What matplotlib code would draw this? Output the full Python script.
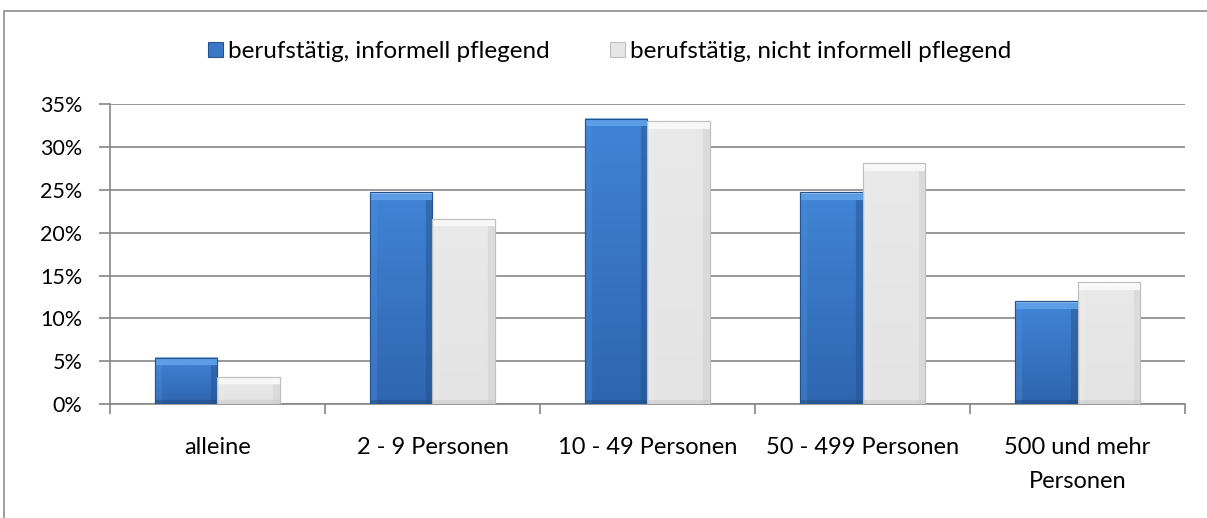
import numpy as np
import matplotlib.pyplot as plt
from matplotlib.patches import Rectangle
from matplotlib.colors import to_rgb

categories = ['alleine', '2 - 9 Personen', '10 - 49 Personen', '50 - 499 Personen', '500 und mehr\nPersonen']
pflegend = [5.4, 24.7, 33.3, 24.7, 12.0]
nicht_pflegend = [3.2, 21.6, 33.0, 28.1, 14.2]
series = ['berufstätig, informell pflegend', 'berufstätig, nicht informell pflegend']

plt.rcParams['font.family'] = ['Lato', 'DejaVu Sans']

fig = plt.figure(figsize=(12.07, 5.18), dpi=100)
ax = fig.add_axes([0.0911, 0.220, 0.8907, 0.579])

x = np.arange(len(categories))
w = 0.29
b1 = ax.bar(x - w / 2, pflegend, w, color='#3B79C8', edgecolor='#24548F', linewidth=0.8, zorder=3,
            label=series[0])
b2 = ax.bar(x + w / 2, nicht_pflegend, w, color='#E6E6E6', edgecolor='#BFBFBF', linewidth=0.8, zorder=3,
            label=series[1])


def shade(bar, top, body_top, body_bot, side_l, side_r, bottom):
    # beveled look: image laid over the bar
    h = bar.get_height()
    hp = max(int(h * 8.57), 4)
    wp = 62
    t = np.linspace(0, 1, hp)[:, None, None]
    img = np.array(to_rgb(body_top)) * (1 - t) + np.array(to_rgb(body_bot)) * t
    img = np.repeat(img, wp, axis=1)
    bv = min(8, hp // 3)
    sv = 7
    img[:, :sv] = img[:, :sv] * 0.6 + np.array(to_rgb(side_l)) * 0.4
    img[:, -sv:] = img[:, -sv:] * 0.5 + np.array(to_rgb(side_r)) * 0.5
    img[-4:, :] = img[-4:, :] * 0.5 + np.array(to_rgb(bottom)) * 0.5
    img[:bv, :] = np.array(to_rgb(top))
    img[:2, :] = np.array(to_rgb(top)) * 0.7 + 0.3
    ax.imshow(img, extent=(bar.get_x(), bar.get_x() + bar.get_width(), 0, h),
              aspect='auto', origin='upper', zorder=3.5, interpolation='bilinear')
    ax.add_patch(Rectangle((bar.get_x(), 0), bar.get_width(), h, fill=False,
                           edgecolor=bar.get_edgecolor(), linewidth=0.8, zorder=4))


for b in b1:
    shade(b, '#5C9DE6', '#4184D6', '#2F65AE', '#4A8BD9', '#23528C', '#1F4A80')
for b in b2:
    shade(b, '#F7F7F7', '#E9E9E9', '#E3E3E3', '#EDEDED', '#CFCFCF', '#C8C8C8')

ax.set_xlim(-0.5, len(categories) - 0.5)
ax.set_ylim(0, 35)
ax.set_yticks(np.arange(0, 36, 5))
ax.set_yticklabels([f'{v}%' for v in range(0, 36, 5)])
ax.set_xticks(x)
ax.set_xticklabels(categories, linespacing=1.72)
ax.set_xticks(np.arange(-0.5, len(categories), 1), minor=True)

ax.grid(axis='y', color='#868686', linewidth=1.2, zorder=0)
ax.set_axisbelow(True)
for s in ['top', 'right']:
    ax.spines[s].set_visible(False)
for s in ['left', 'bottom']:
    ax.spines[s].set_color('#868686')
    ax.spines[s].set_linewidth(1.2)

ax.tick_params(axis='y', length=8, width=1.2, color='#868686', pad=12, labelsize=15.5)
ax.tick_params(axis='x', which='major', length=0, pad=24, labelsize=17)
ax.tick_params(axis='x', which='minor', length=7, width=1.2, color='#868686')

fig.legend(handles=[b1, b2], labels=series, loc='center', bbox_to_anchor=(0.505, 0.9),
           ncol=2, frameon=False, fontsize=17.5, handlelength=0.6, handleheight=0.6,
           handletextpad=0.2, columnspacing=2.5)

# outer chart frame
fig.patches.append(Rectangle((4 / 1207, -0.1), 1.2, 1 - 11 / 518 + 0.1, transform=fig.transFigure,
                             fill=False, edgecolor='#8C8C8C', linewidth=1.2))

fig.savefig('out.png', dpi=100)
